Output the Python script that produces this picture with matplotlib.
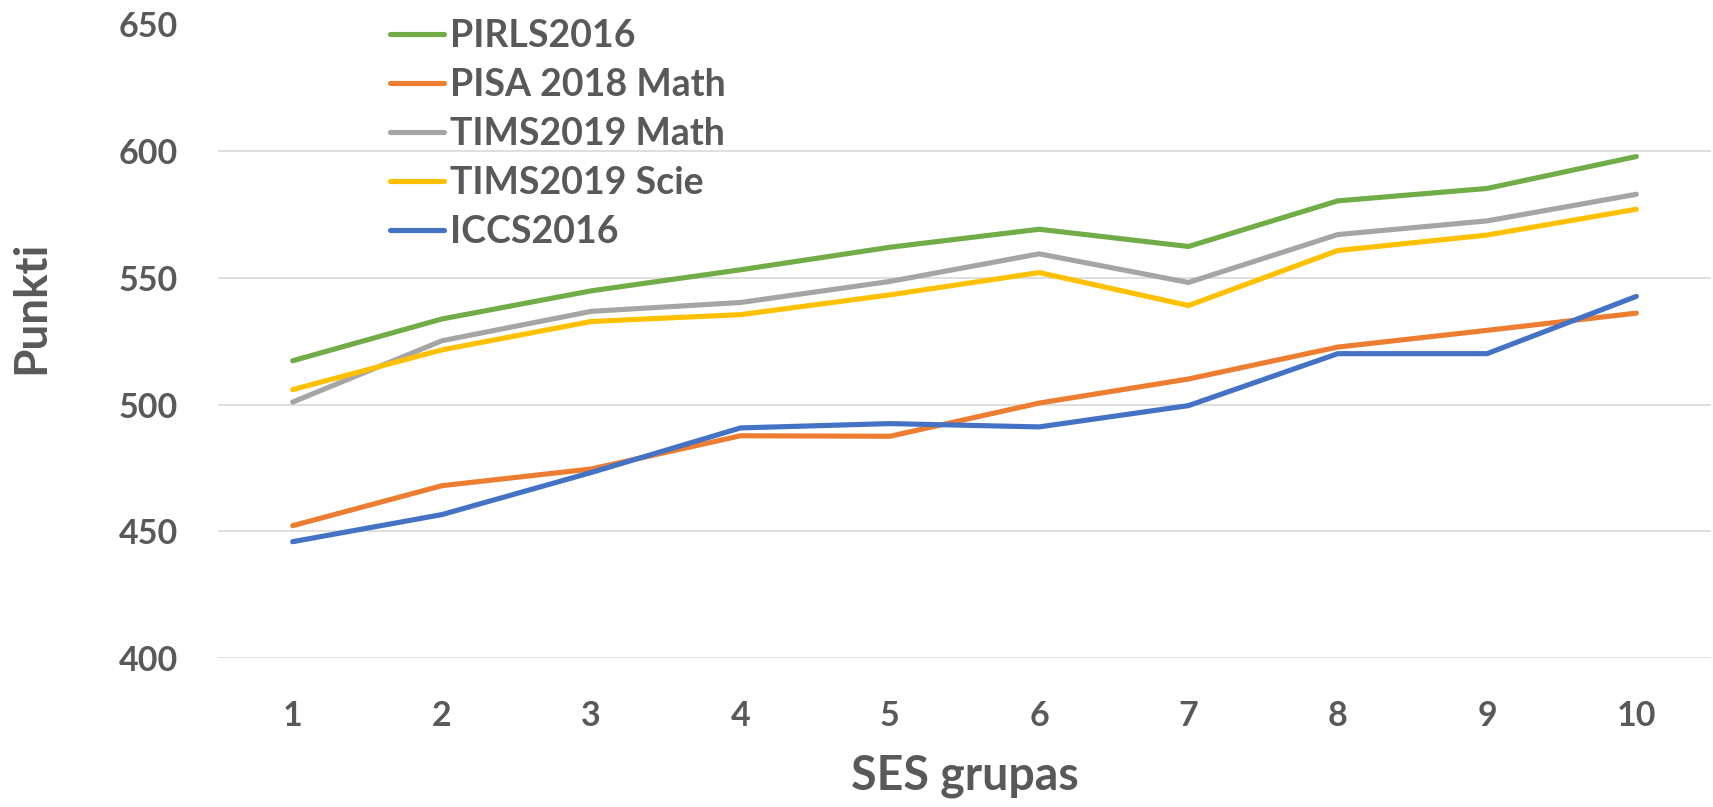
import matplotlib
matplotlib.use("Agg")
import matplotlib.pyplot as plt

# SES grupas 1..10
groups = [1, 2, 3, 4, 5, 6, 7, 8, 9, 10]

pirls2016 = [517.3, 533.8, 544.9, 553.2, 562.1, 569.2, 562.4, 580.4, 585.3, 597.9]
pisa2018_math = [452.2, 468.0, 474.6, 487.7, 487.5, 500.6, 510.1, 522.7, 529.3, 536.1]
tims2019_math = [501.0, 525.2, 536.8, 540.3, 548.6, 559.5, 548.2, 567.1, 572.5, 583.0]
tims2019_scie = [505.9, 521.6, 532.8, 535.5, 543.3, 552.1, 539.1, 560.8, 566.9, 577.1]
iccs2016 = [445.9, 456.6, 473.2, 490.8, 492.5, 491.2, 499.6, 520.1, 520.1, 542.7]

series = [
    ("PIRLS2016", pirls2016, "#70AD47"),
    ("PISA 2018 Math", pisa2018_math, "#ED7D31"),
    ("TIMS2019 Math", tims2019_math, "#A5A5A5"),
    ("TIMS2019 Scie", tims2019_scie, "#FFC000"),
    ("ICCS2016", iccs2016, "#4472C4"),
]
y_ticks = [400, 450, 500, 550, 600, 650]

txt_color = "#595959"
plt.rcParams['font.family'] = ['Lato', 'DejaVu Sans']
plt.rcParams['font.weight'] = 'bold'

W, H = 1713, 807
fig = plt.figure(figsize=(W / 100, H / 100), dpi=100)
ax = fig.add_axes([218 / W, 1 - 658 / H, (1711 - 218) / W, (658 - 24.5) / H])

for name, vals, col in series:
    ax.plot(groups, vals, color=col, lw=3.7, label=name, solid_capstyle='round', zorder=3)

ax.set_xlim(0.5, 10.5)
ax.set_ylim(400, 650)
ax.set_xticks(groups)
ax.set_yticks(y_ticks)
ax.grid(axis='y', color='#D9D9D9', lw=1.2)
ax.set_axisbelow(True)
for s in ax.spines.values():
    s.set_visible(False)
ax.tick_params(axis='both', length=0, labelsize=24.5, colors=txt_color)
ax.tick_params(axis='y', pad=29)
ax.tick_params(axis='x', pad=30)
for lab in ax.get_xticklabels() + ax.get_yticklabels():
    lab.set_fontweight('bold')

fig.text((218 + 1711) / 2 / W, 1 - 790 / H, "SES grupas", ha='center', va='baseline',
         fontsize=33.5, fontweight='bold', color=txt_color)
fig.text(31 / W, 1 - 307 / H, "Punkti", ha='center', va='center', rotation=90,
         fontsize=33, fontweight='bold', color=txt_color)

leg = fig.legend(loc='upper left', bbox_to_anchor=(390 / W, 1 - 19 / H), frameon=False,
                 borderpad=0, borderaxespad=0, fontsize=27, handlelength=1.45,
                 handletextpad=0.14, labelspacing=0.40)
for t in leg.get_texts():
    t.set_color(txt_color)
    t.set_fontweight('bold')

fig.savefig("out.png", dpi=100)
